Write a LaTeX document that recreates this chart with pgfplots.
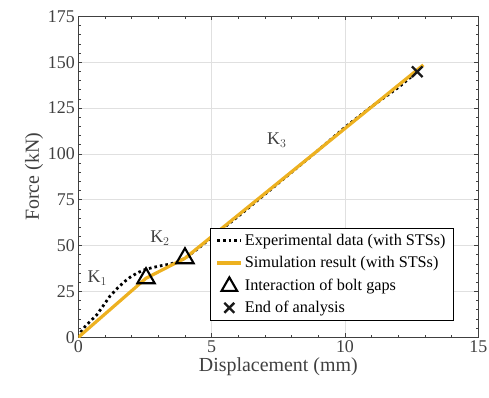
\documentclass[border=0pt]{standalone}
\usepackage{fontspec}
\setmainfont{Liberation Serif}
\usepackage{pgfplots}
\pgfplotsset{compat=1.18}
\definecolor{mOrange}{RGB}{237,177,32}
\definecolor{axgray}{RGB}{64,64,64}
\pgfplotsset{
  lineleg/.style={legend image code/.code={\draw[##1] (0bp,0bp) -- (24bp,0bp);}},
  triLeg/.style={legend image code/.code={\draw[##1,mark size=9bp] plot coordinates {(12bp,-1bp)};}},
  xLeg/.style={legend image code/.code={\draw[##1,mark size=7bp] plot coordinates {(12bp,0bp)};}},
}
\begin{document}
\begin{tikzpicture}
\useasboundingbox (-78.3bp,-60.7bp) rectangle (410.7bp,337.3bp);
\begin{axis}[
  at={(0,0)}, anchor=south west,
  scale only axis, width=400bp, height=321bp,
  xmin=0, xmax=15, ymin=0, ymax=175,
  xtick={0,5,10,15}, xticklabels={0,5,10,15},
  ytick={0,25,50,75,100,125,150,175}, yticklabels={0,25,50,75,100,125,150,175},
  minor x tick num=4, minor y tick num=4,
  major tick length=4bp, minor tick length=2.5bp,
  grid=major, major grid style={draw=black!12, line width=0.6bp},
  axis line style={draw=axgray, line width=0.8bp},
  every tick/.style={draw=axgray, line width=0.6bp},
  tick label style={font=\rmfamily\fontsize{18}{20}\selectfont, text=axgray},
  xlabel={Displacement (mm)}, ylabel={Force (kN)},
  label style={font=\fontsize{20}{22}\selectfont, text=axgray},
  xlabel style={yshift=2bp}, ylabel style={yshift=-2bp},
  legend style={at={(axis cs:4.92,59.5)}, anchor=north west, draw=black, line width=0.5bp,
    font=\fontsize{16.3}{17}\selectfont, row sep=5.5bp, inner xsep=6bp, inner ysep=4bp,
    /tikz/every even column/.append style={column sep=6bp}},
  legend cell align=left,
]
\addplot[black, line width=2.8bp, dash pattern=on 2.6bp off 3.0bp, line cap=butt, lineleg] coordinates {
 (0,0) (0.1,3) (0.25,5.8) (0.45,8.8) (0.69,12.2) (0.95,17.5) (1.19,22.5) (1.45,26.5) (1.7,30) (1.95,32.8) (2.2,35) (2.44,36.6) (2.75,37.9) (3.06,38.9) (3.4,39.8) (3.69,40.9) (4.0,43.1)
 (4.5,48.5) (5,54.5) (6,66) (7,78) (8,90) (9,102) (10,114.5) (11,125.8) (12,136.2) (12.71,144.8)};
\addlegendentry{Experimental data (with STSs)}
\addplot[mOrange, line width=3.2bp, lineleg] coordinates {(0,0) (2.54,32.2) (4.0,43.1) (12.94,148.5)};
\addlegendentry{Simulation result (with STSs)}
\addplot[only marks, mark=triangle, mark size=10bp, black, mark options={line width=2.1bp}, triLeg] coordinates {(2.54,32.2) (4.0,43.1)};
\addlegendentry{Interaction of bolt gaps}
\addplot[only marks, mark=x, mark size=7.5bp, black!90, mark options={line width=2.3bp}, xLeg] coordinates {(12.71,144.8)};
\addlegendentry{End of analysis}
\node[font=\fontsize{18}{20}\selectfont, text=axgray] at (axis cs:0.71,32.2) {K$_1$};
\node[font=\fontsize{18}{20}\selectfont, text=axgray] at (axis cs:3.06,54) {K$_2$};
\node[font=\fontsize{18}{20}\selectfont, text=axgray] at (axis cs:7.44,107.6) {K$_3$};
\end{axis}
\end{tikzpicture}
\end{document}
